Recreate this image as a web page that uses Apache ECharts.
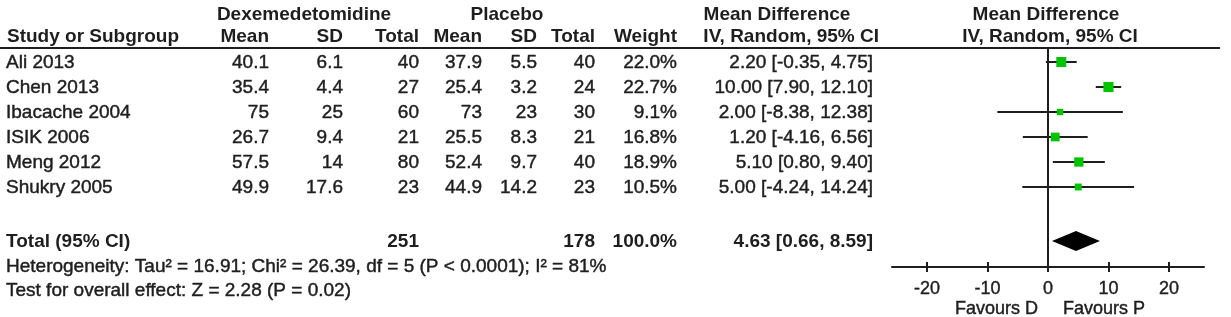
<!DOCTYPE html>
<html>
<head>
<meta charset="utf-8">
<script src="https://cdn.jsdelivr.net/npm/echarts@6/dist/echarts.min.js"></script>
<style>
html,body{margin:0;padding:0;background:#fff;}
#c{width:1231px;height:317px;}
</style>
</head>
<body>
<div id="c"></div>
<script>
// ---- data ----
const studies = ['Ali 2013', 'Chen 2013', 'Ibacache 2004', 'ISIK 2006', 'Meng 2012', 'Shukry 2005'];
const dexMean = [40.1, 35.4, 75, 26.7, 57.5, 49.9];
const dexSD = [6.1, 4.4, 25, 9.4, 14, 17.6];
const dexTotal = [40, 27, 60, 21, 80, 23];
const plaMean = [37.9, 25.4, 73, 25.5, 52.4, 44.9];
const plaSD = [5.5, 3.2, 23, 8.3, 9.7, 14.2];
const plaTotal = [40, 24, 30, 21, 40, 23];
const weights = [22.0, 22.7, 9.1, 16.8, 18.9, 10.5];
const md = [2.20, 10.00, 2.00, 1.20, 5.10, 5.00];
const ciLow = [-0.35, 7.90, -8.38, -4.16, 0.80, -4.24];
const ciHigh = [4.75, 12.10, 12.38, 6.56, 9.40, 14.24];
const totalLabel = 'Total (95% CI)';
const totalDex = 251;
const totalPla = 178;
const totalWeight = 100.0;
const totalMD = 4.63;
const totalLow = 0.66;
const totalHigh = 8.59;
const heterogeneity = 'Heterogeneity: Tau² = 16.91; Chi² = 26.39, df = 5 (P < 0.0001); I² = 81%';
const overallTest = 'Test for overall effect: Z = 2.28 (P = 0.02)';
const xTicks = [-20, -10, 0, 10, 20];
const favourLeft = 'Favours D';
const favourRight = 'Favours P';

// ---- layout ----
const FONT = '"Liberation Sans", Arial, Helvetica, sans-serif';
const FS = 19;
const INK = '#1e1e1e';
const GREEN = '#00c400';
const totalRowPos = 7.16;

const chart = echarts.init(document.getElementById('c'), null, {renderer: 'canvas', width: 1231, height: 317});

const studyData = studies.map((s, i) => [i, ciLow[i], ciHigh[i], md[i], weights[i]]);

chart.setOption({
  animation: false,
  backgroundColor: '#ffffff',
  grid: {left: 892, top: 48, width: 312, height: 219, containLabel: false},
  xAxis: [{
    type: 'value', min: -25.8, max: 25.8, position: 'bottom',
    axisLine: {show: true, onZero: false, lineStyle: {color: INK, width: 2}},
    axisTick: {show: true, inside: false, length: 5, customValues: xTicks, lineStyle: {color: INK, width: 2}},
    axisLabel: {show: true, customValues: xTicks, margin: 13, color: INK, fontSize: 18, fontFamily: FONT,
      textBorderColor: INK, textBorderWidth: 0.4},
    splitLine: {show: false}
  }, {
    type: 'value', min: -25.8, max: 25.8, position: 'bottom',
    axisLine: {show: false, onZero: false},
    axisTick: {show: true, inside: true, length: 5, customValues: xTicks, lineStyle: {color: INK, width: 2}},
    axisLabel: {show: false},
    splitLine: {show: false}
  }],
  yAxis: {
    type: 'value', inverse: true, min: -0.56, max: 8.2,
    axisLine: {show: true, onZero: true, lineStyle: {color: INK, width: 2}},
    axisTick: {show: false}, axisLabel: {show: false}, splitLine: {show: false}
  },
  series: [{
    type: 'custom',
    data: studyData,
    renderItem: function (params, api) {
      const y = api.value(0);
      const p1 = api.coord([api.value(1), y]);
      const p2 = api.coord([api.value(2), y]);
      const pc = api.coord([api.value(3), y]);
      const sz = 2.13 * Math.sqrt(api.value(4));
      return {
        type: 'group',
        children: [{
          type: 'line',
          shape: {x1: p1[0], y1: p1[1], x2: p2[0], y2: p2[1]},
          style: {stroke: INK, lineWidth: 2}
        }, {
          type: 'rect',
          shape: {x: pc[0] - sz / 2, y: pc[1] - sz / 2, width: sz, height: sz},
          style: {fill: GREEN}
        }]
      };
    }
  }, {
    type: 'custom',
    data: [[totalRowPos, totalLow, totalHigh, totalMD]],
    renderItem: function (params, api) {
      const y = api.value(0);
      const a = api.coord([api.value(1), y]);
      const b = api.coord([api.value(2), y]);
      const c = api.coord([api.value(3), y]);
      const h = 10;
      return {
        type: 'polygon',
        shape: {points: [[a[0], a[1]], [c[0], c[1] - h], [b[0], b[1]], [c[0], c[1] + h]]},
        style: {fill: '#000000'}
      };
    }
  }]
});

function rowY(pos) { return chart.convertToPixel({yAxisIndex: 0}, pos); }
function xPix(v) { return chart.convertToPixel({xAxisIndex: 0}, v); }
function txt(text, x, y, align, bold, size) {
  return {
    type: 'text', x: x, y: y, silent: true,
    style: {
      text: text, fill: INK,
      stroke: bold ? null : INK, lineWidth: bold ? 0 : 0.45,
      font: (bold ? 'bold ' : '') + (size || FS) + 'px ' + FONT,
      textAlign: align, textVerticalAlign: 'middle', align: align, verticalAlign: 'middle'
    }
  };
}
const f2 = v => v.toFixed(2);
const ciText = (m, l, h) => f2(m) + ' [' + f2(l) + ', ' + f2(h) + ']';

const g = [];
// headers
g.push(txt('Dexemedetomidine', 304, 15, 'center', true));
g.push(txt('Placebo', 507, 15, 'center', true));
g.push(txt('Mean Difference', 777, 15, 'center', true));
g.push(txt('Mean Difference', 1046, 15, 'center', true));
g.push(txt('Study or Subgroup', 7, 37, 'left', true));
g.push(txt('Mean', 269, 37, 'right', true));
g.push(txt('SD', 343, 37, 'right', true));
g.push(txt('Total', 419, 37, 'right', true));
g.push(txt('Mean', 482, 37, 'right', true));
g.push(txt('SD', 537, 37, 'right', true));
g.push(txt('Total', 595, 37, 'right', true));
g.push(txt('Weight', 677, 37, 'right', true));
g.push(txt('IV, Random, 95% CI', 879, 37, 'right', true));
g.push(txt('IV, Random, 95% CI', 1050, 37, 'center', true));
g.push({type: 'line', shape: {x1: 0, y1: 48, x2: 1220, y2: 48}, style: {stroke: INK, lineWidth: 2}, silent: true});

studies.forEach((s, i) => {
  const y = rowY(i) + 1;
  g.push(txt(s, 6, y, 'left', false));
  g.push(txt(String(dexMean[i]), 269, y, 'right', false));
  g.push(txt(String(dexSD[i]), 343, y, 'right', false));
  g.push(txt(String(dexTotal[i]), 419, y, 'right', false));
  g.push(txt(String(plaMean[i]), 482, y, 'right', false));
  g.push(txt(String(plaSD[i]), 537, y, 'right', false));
  g.push(txt(String(plaTotal[i]), 595, y, 'right', false));
  g.push(txt(weights[i].toFixed(1) + '%', 677, y, 'right', false));
  g.push(txt(ciText(md[i], ciLow[i], ciHigh[i]), 873, y, 'right', false));
});

const ty = rowY(totalRowPos) + 1;
g.push(txt(totalLabel, 6, ty, 'left', true));
g.push(txt(String(totalDex), 419, ty, 'right', true));
g.push(txt(String(totalPla), 595, ty, 'right', true));
g.push(txt(totalWeight.toFixed(1) + '%', 677, ty, 'right', true));
g.push(txt(ciText(totalMD, totalLow, totalHigh), 873, ty, 'right', true));
g.push(txt(heterogeneity, 6, 267, 'left', false, 19));
g.push(txt(overallTest, 6, 291, 'left', false, 19));

const x0 = xPix(0);
g.push(txt(favourLeft, x0 - 10, 309, 'right', false, 18));
g.push(txt(favourRight, x0 + 15, 309, 'left', false, 18));

chart.setOption({graphic: {elements: g}});
</script>
</body>
</html>
